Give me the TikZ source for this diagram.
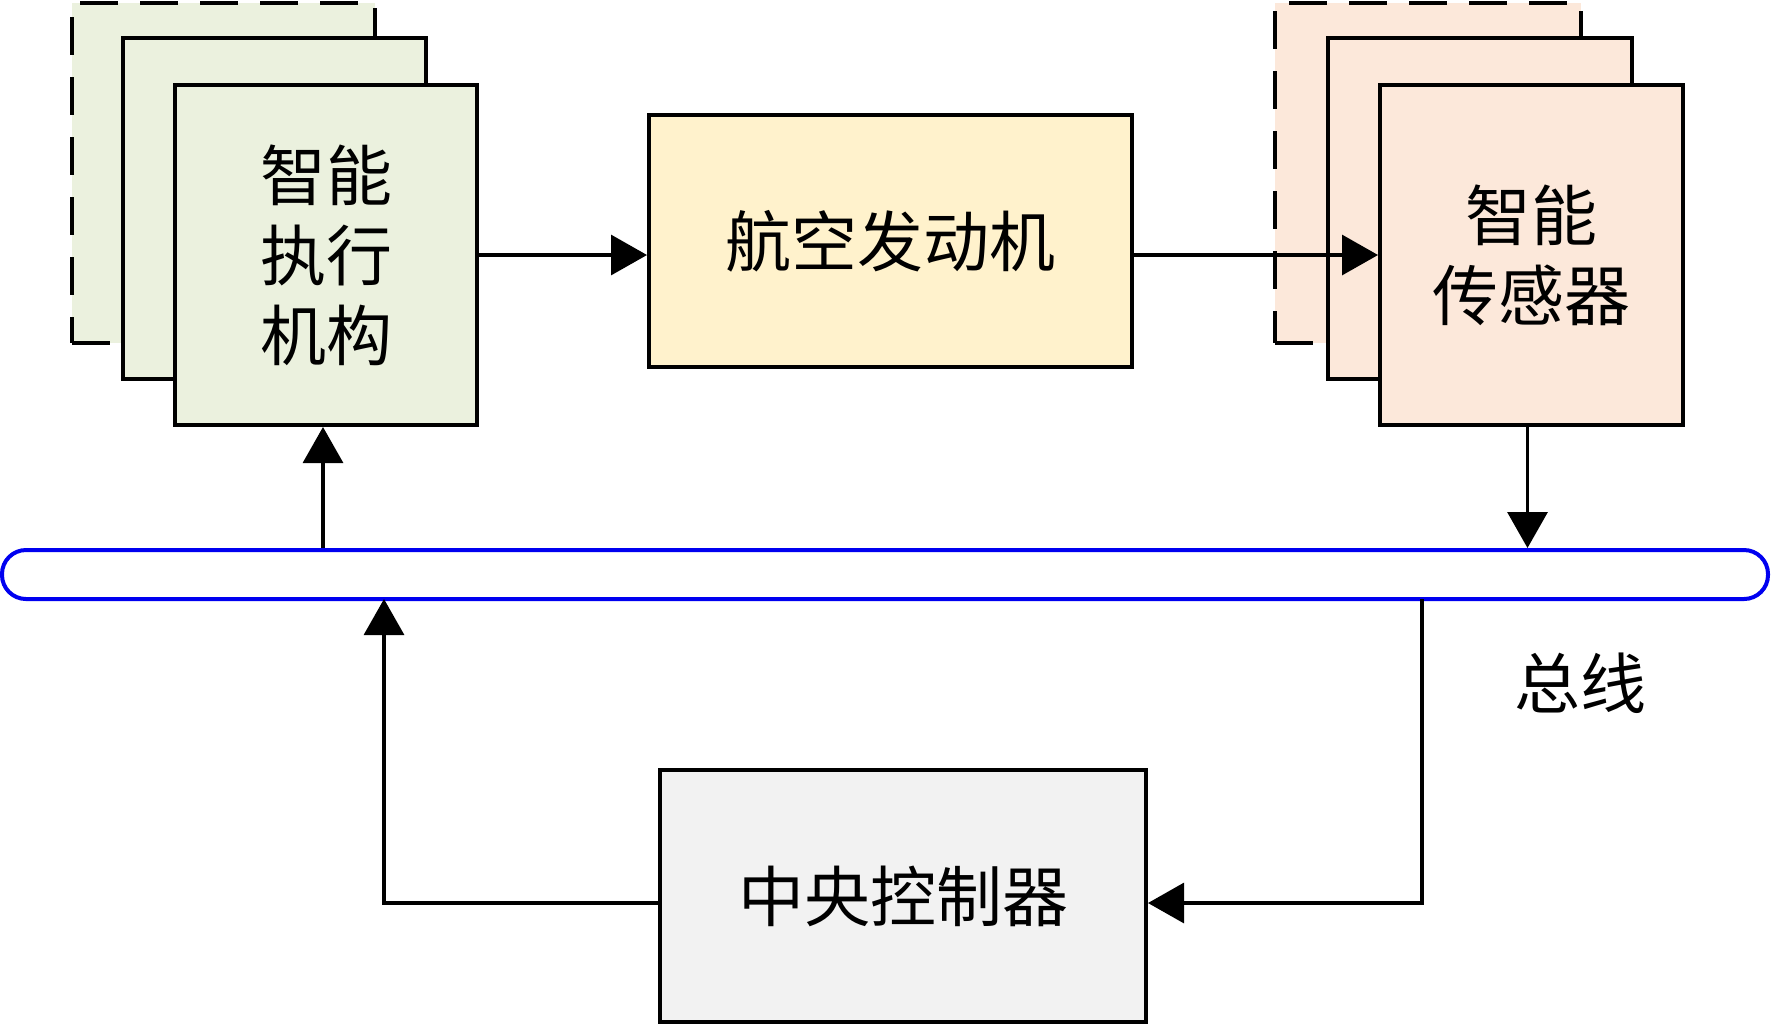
\documentclass[tikz,border=0pt]{standalone}
\usepackage{fontspec}
\newfontfamily\cjk{Noto Sans CJK SC}
\usetikzlibrary{arrows.meta}
\definecolor{actfill}{HTML}{EBF1DE}
\definecolor{senfill}{HTML}{FCE8DA}
\definecolor{engfill}{HTML}{FFF2CC}
\definecolor{ccfill}{HTML}{F2F2F2}
\definecolor{busblue}{HTML}{0000F0}
\tikzset{
  box/.style={draw=black, line width=2pt, inner sep=0pt, align=center,
    font=\cjk\fontsize{33pt}{40pt}\selectfont},
  dashbox/.style={box, dash pattern=on 19pt off 11pt},
  arr/.style={line width=1.6pt, -{Triangle[length=18pt,width=20pt]}},
  lbl/.style={font=\cjk\fontsize{33pt}{40pt}\selectfont, inner sep=0pt}
}
\begin{document}
\begin{tikzpicture}[x=0.5pt,y=-0.5pt]
\useasboundingbox (0,0) rectangle (1772,1025);
% actuators
\node[dashbox, fill=actfill, minimum width=151.5pt, minimum height=170pt] (a1) at (223.5,173) {};
\node[box, fill=actfill, minimum width=151.5pt, minimum height=170.5pt] (a2) at (274.5,208.5) {};
\node[box, fill=actfill, minimum width=151pt, minimum height=170pt] (a3) at (326,255) {智能\\执行\\机构};
% sensors
\node[dashbox, fill=senfill, minimum width=153pt, minimum height=170pt] (s1) at (1428,173) {};
\node[box, fill=senfill, minimum width=152pt, minimum height=170.5pt] (s2) at (1480,208.5) {};
\node[box, fill=senfill, minimum width=151.5pt, minimum height=170pt] (s3) at (1531.5,255) {智能\\传感器};
% engine
\node[box, fill=engfill, minimum width=241.5pt, minimum height=126pt] (eng) at (890.5,241) {航空发动机};
% bus
\node[draw=busblue, line width=2pt, fill=white, rounded corners=12pt, minimum width=883pt, minimum height=24.5pt, inner sep=0pt] (bus) at (885,574.5) {};
\node[lbl] (buslbl) at (1580,683) {总线};
% central controller
\node[box, fill=ccfill, minimum width=243pt, minimum height=126pt] (cc) at (903,896) {中央控制器};
% coordinates
\coordinate (bL) at (384,599);
\coordinate (bR) at (1422,599);
\coordinate (aIn) at ([xshift=-1.5pt]a3.south);
\coordinate (sOut) at ([xshift=-2pt]s3.south);
\coordinate (ccR) at ([yshift=-3.5pt]cc.east);
\coordinate (ccL) at ([yshift=-3.5pt]cc.west);
% connectors
\draw[arr] (a3.east) -- (a3.east -| eng.west);
\draw[arr] (eng.east |- s3.west) -- (s3.west);
\draw[arr] (bus.north -| aIn) -- (aIn);
\draw[arr] (sOut) -- (sOut |- bus.north);
\draw[arr] (bR) |- (ccR);
\draw[arr] (ccL) -| (bL);
\end{tikzpicture}
\end{document}
